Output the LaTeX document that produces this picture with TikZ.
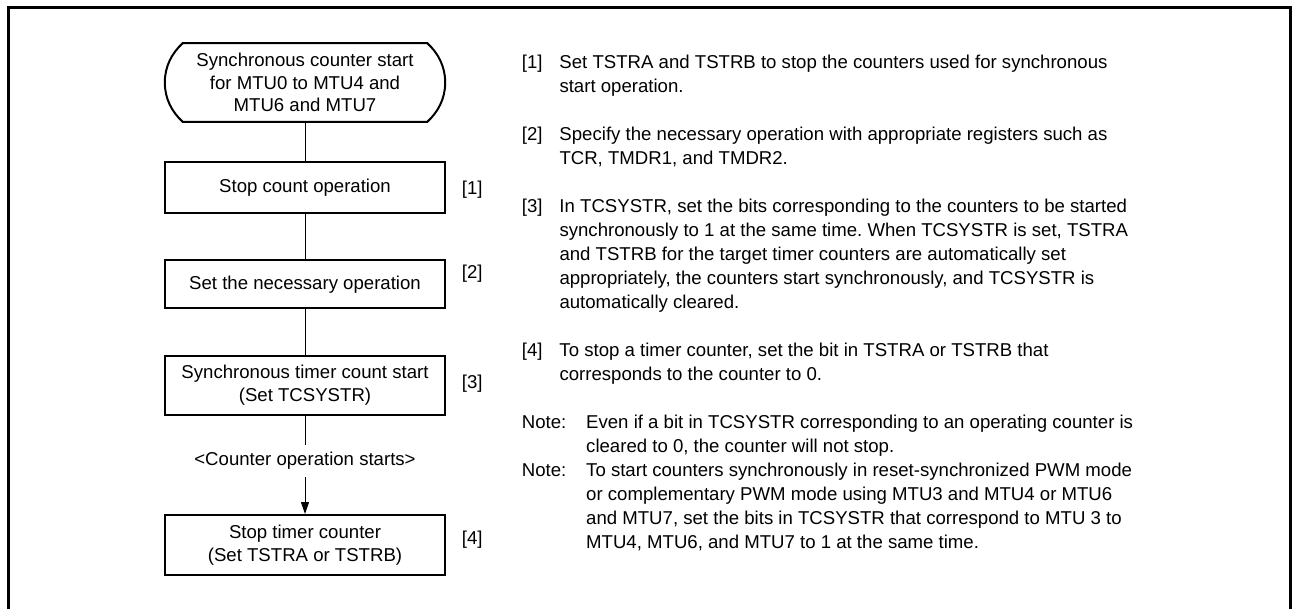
\documentclass[tikz,border=0pt]{standalone}
\usepackage{fontspec}
\setmainfont{Liberation Sans}
\usetikzlibrary{arrows.meta}
\frenchspacing
\begin{document}
\begin{tikzpicture}[x=1pt,y=1pt,
  flowfont/.style={font=\fontsize{18.6}{22.5}\selectfont},
  boxline/.style={line width=2pt},
  conn/.style={line width=1pt},
  stepbox/.style={flowfont, draw, boxline, minimum width=280pt, align=center, inner sep=0pt},
  termbox/.style={flowfont, minimum width=280pt, minimum height=78.4pt, align=center, inner sep=0pt},
  tag/.style={flowfont, anchor=west, inner sep=0pt},
  para/.style={font=\fontsize{18.6}{24}\selectfont, anchor=west, inner sep=0pt},
  flowlabel/.style={flowfont, inner xsep=2pt, inner ysep=7.5pt, text height=13pt, text depth=4pt}
]
\useasboundingbox (0,0) rectangle (1292,-608);
% frame (open at the bottom)
\draw[line width=3pt] (8.5,-615) -- (8.5,-7.3) -- (1290.5,-7.3) -- (1290.5,-615);

% terminal
\node[termbox] (t) at (305,-82.5) {Synchronous counter start\\for MTU0 to MTU4 and\\MTU6 and MTU7};
\draw[boxline] ([xshift=18pt]t.north west) -- ([xshift=-18pt]t.north east)
  .. controls +(11,-10) and +(0,16) .. (t.east)
  .. controls +(0,-16) and +(11,10) .. ([xshift=-18pt]t.south east)
  -- ([xshift=18pt]t.south west)
  .. controls +(-11,10) and +(0,-16) .. (t.west)
  .. controls +(0,16) and +(-11,-10) .. cycle;

% steps
\node[stepbox, minimum height=51pt] (b1) at (305,-187.8) {Stop count operation};
\node[stepbox, minimum height=48.3pt] (b2) at (305,-284.2) {Set the necessary operation};
\node[stepbox, minimum height=59.3pt] (b3) at (305,-385.3) {Synchronous timer count start\\(Set TCSYSTR)};
\node[flowlabel] (lbl) at (305,-461) {<Counter operation starts>};
\node[stepbox, minimum height=60pt] (b4) at (305,-545) {Stop timer counter\\(Set TSTRA or TSTRB)};

% tags
\node[tag] (g1) at (461.7,-190) {[1]};
\node[tag] (g2) at (461.7,-273.3) {[2]};
\node[tag] (g3) at (461.7,-383.3) {[3]};
\node[tag] (g4) at (461.7,-540) {[4]};

% connectors
\draw[conn] (t.south) -- (b1.north);
\draw[conn] (b1.south) -- (b2.north);
\draw[conn] (b2.south) -- (b3.north);
\draw[conn] (b3.south) -- (lbl.north);
\draw[conn, -{Triangle[length=12pt,width=8pt]}] (lbl.south) -- (b4.north);

% explanations
\node[para] (p1) at (521.7,-76) {\begin{tabular}{@{}p{37.6pt}@{}l@{}}
[1] & Set TSTRA and TSTRB to stop the counters used for synchronous\\
 & start operation.\end{tabular}};
\node[para] (p2) at (521.7,-148) {\begin{tabular}{@{}p{37.6pt}@{}l@{}}
[2] & Specify the necessary operation with appropriate registers such as\\
 & TCR, TMDR1, and TMDR2.\end{tabular}};
\node[para] (p3) at (521.7,-256) {\begin{tabular}{@{}p{37.6pt}@{}l@{}}
[3] & In TCSYSTR, set the bits corresponding to the counters to be started\\
 & synchronously to 1 at the same time. When TCSYSTR is set, TSTRA\\
 & and TSTRB for the target timer counters are automatically set\\
 & appropriately, the counters start synchronously, and TCSYSTR is\\
 & automatically cleared.\end{tabular}};
\node[para] (p4) at (521.7,-364) {\begin{tabular}{@{}p{37.6pt}@{}l@{}}
[4] & To stop a timer counter, set the bit in TSTRA or TSTRB that\\
 & corresponds to the counter to 0.\end{tabular}};
\node[para] (n1) at (521.7,-436) {\begin{tabular}{@{}p{64.3pt}@{}l@{}}
Note: & Even if a bit in TCSYSTR corresponding to an operating counter is\\
 & cleared to 0, the counter will not stop.\end{tabular}};
\node[para] (n2) at (521.7,-508) {\begin{tabular}{@{}p{64.3pt}@{}l@{}}
Note: & To start counters synchronously in reset-synchronized PWM mode\\
 & or complementary PWM mode using MTU3 and MTU4 or MTU6\\
 & and MTU7, set the bits in TCSYSTR that correspond to MTU 3 to\\
 & MTU4, MTU6, and MTU7 to 1 at the same time.\end{tabular}};
\end{tikzpicture}
\end{document}
